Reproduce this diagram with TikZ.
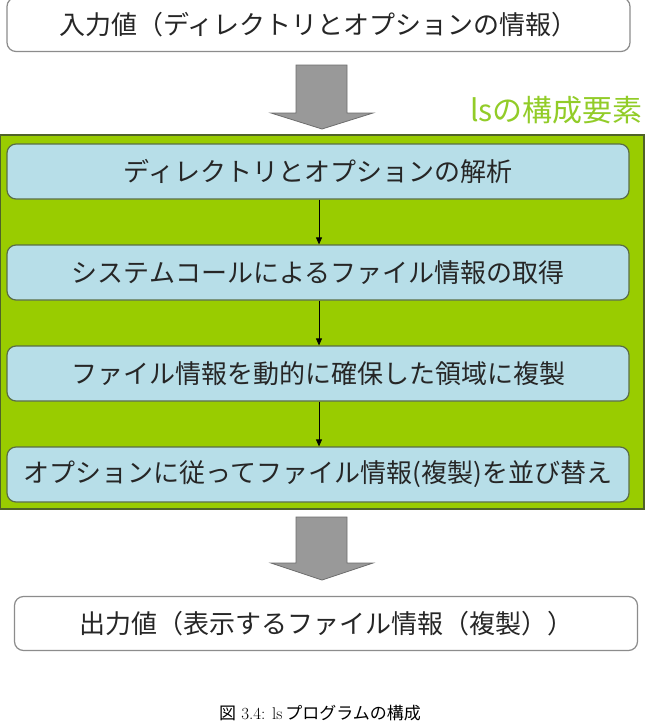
\documentclass[tikz,border=0pt]{standalone}
\usepackage{fontspec}
\newfontfamily\jp{Noto Sans CJK JP}
\usetikzlibrary{arrows.meta}
\definecolor{panelgreen}{RGB}{153,204,0}
\definecolor{paneledge}{RGB}{79,98,40}
\definecolor{stepfill}{RGB}{183,222,232}
\definecolor{stepedge}{RGB}{90,110,70}
\definecolor{titlegreen}{RGB}{146,204,40}
\definecolor{blockfill}{RGB}{153,153,153}
\definecolor{blockedge}{RGB}{110,110,110}
\definecolor{ioedge}{RGB}{140,140,140}
\tikzset{
  iobox/.style={draw=ioedge, line width=1.2pt, rounded corners=9pt, fill=white,
    minimum width=623pt, minimum height=54pt, inner sep=0pt,
    font=\jp\fontsize{26}{30}\selectfont, text=black!85},
  stepbox/.style={draw=stepedge, line width=1.2pt, rounded corners=9pt, fill=stepfill,
    minimum width=622pt, minimum height=55pt, inner sep=0pt,
    font=\jp\fontsize{26}{30}\selectfont, text=black!85},
  flow/.style={-{Triangle[length=7pt,width=6pt]}, line width=0.8pt, black},
  blockarrow/.style={fill=blockfill, draw=blockedge, line width=0.8pt},
}
\begin{document}
\begin{tikzpicture}[x=1pt,y=-1pt]
  \useasboundingbox (0,0) rectangle (649,728);
  \fill[white] (0,0) rectangle (649,728);

  % input
  \node[iobox] (in) at (318.5,24.5) {入力値（ディレクトリとオプションの情報）};

  % block arrow into the panel
  \draw[blockarrow] (296,65) -- (347,65) -- (347,113) -- (373,113) -- (322,129)
    -- (271,113) -- (296,113) -- cycle;

  % panel of ls components
  \node[anchor=south east, font=\jp\fontsize{30}{34}\selectfont, text=titlegreen,
    inner sep=0pt] (title) at (643,124) {lsの構成要素};
  \draw[fill=panelgreen, draw=paneledge, line width=1.5pt] (0,135) rectangle (644,509);

  \node[stepbox] (s1) at (318,171.5) {ディレクトリとオプションの解析};
  \node[stepbox] (s2) at (318,272.5) {システムコールによるファイル情報の取得};
  \node[stepbox] (s3) at (318,373.5) {ファイル情報を動的に確保した領域に複製};
  \node[stepbox] (s4) at (318,474.5) {オプションに従ってファイル情報(複製)を並び替え};

  \draw[flow] (s1.south) ++(1,0) coordinate (f1) -- (f1 |- s2.north);
  \draw[flow] (s2.south) ++(1,0) coordinate (f2) -- (f2 |- s3.north);
  \draw[flow] (s3.south) ++(1,0) coordinate (f3) -- (f3 |- s4.north);

  % block arrow out of the panel
  \draw[blockarrow] (296,517) -- (347,517) -- (347,563) -- (373,563) -- (322,580)
    -- (271,563) -- (296,563) -- cycle;

  % output
  \node[iobox] (out) at (326,623.5) {出力値（表示するファイル情報（複製））};

  % caption
  \node[font=\fontsize{17}{20}\selectfont, inner sep=0pt] (cap) at (320,713)
    {{\jp 図} 3.4: ls\,{\jp プログラムの構成}};
\end{tikzpicture}
\end{document}
